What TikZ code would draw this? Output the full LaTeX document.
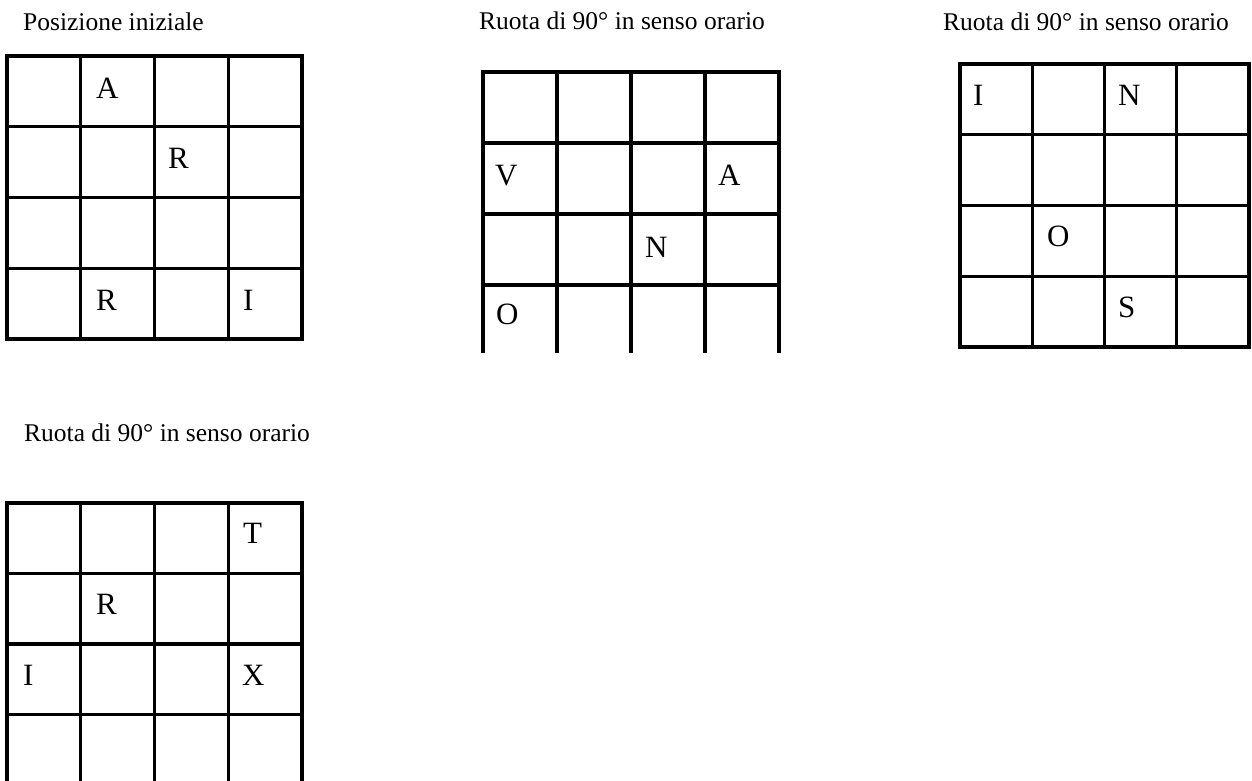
\documentclass[tikz,border=0pt]{standalone}
\usepackage{fontspec}
\setmainfont{Liberation Serif}
\usepackage{tikz}
\usepackage{xcolor}
\definecolor{ink}{HTML}{000000}
\definecolor{paper}{HTML}{FFFFFF}
\tikzset{
  gridline/.style={draw=ink,line width=3.3pt,line join=miter},
  titletext/.style={anchor=base west,inner sep=0pt,text=ink,
                    font=\fontsize{25.5}{30}\selectfont},
  cellletter/.style={anchor=base west,inner sep=0pt,text=ink,
                     font=\fontsize{31}{36}\selectfont}
}
\begin{document}
\begin{tikzpicture}[x=1pt,y=-1pt]
  \useasboundingbox[fill=paper] (0,0) rectangle (1252,780);
  % titles
  \node[titletext] (tit1) at (23,30)  {Posizione iniziale};
  \node[titletext] (tit2) at (479,29) {Ruota di 90° in senso orario};
  \node[titletext] (tit3) at (943,30) {Ruota di 90° in senso orario};
  \node[titletext] (tit4) at (24,441) {Ruota di 90° in senso orario};
  % grid 1, closed
  \draw[gridline] (7,56) rectangle (302,339);
  \foreach \i in {1,2,3} {
    \draw[gridline] (7+\i*73.75,56) -- (7+\i*73.75,339);
    \draw[gridline] (7,56+\i*70.75) -- (302,56+\i*70.75);
  }
  % grid 2, open at the bottom
  \draw[gridline] (483,353) -- (483,72) -- (779,72) -- (779,353);
  \foreach \i in {1,2,3} {
    \draw[gridline] (483+\i*74,72) -- (483+\i*74,353);
    \draw[gridline] (483,72+\i*71) -- (779,72+\i*71);
  }
  % grid 3, closed
  \draw[gridline] (960,64) rectangle (1249,347);
  \foreach \i in {1,2,3} {
    \draw[gridline] (960+\i*72.25,64) -- (960+\i*72.25,347);
    \draw[gridline] (960,64+\i*70.75) -- (1249,64+\i*70.75);
  }
  % grid 4, cut by the lower edge
  \draw[gridline] (7,782) -- (7,503) -- (302,503) -- (302,782);
  \foreach \i in {1,2,3} {
    \draw[gridline] (7+\i*73.75,503) -- (7+\i*73.75,782);
    \draw[gridline] (7,503+\i*70.5) -- (302,503+\i*70.5);
  }
  % letters in the cells
  \foreach \x/\y/\l/\n in {96/98/A/ga, 168/168/R/gb, 96/310/R/gc, 243/310/I/gd,
      495/185/V/ge, 718/185/A/gf, 645/257/N/gg, 496/324/O/gh,
      973/105/I/gi, 1118/105/N/gj, 1047/246/O/gk, 1118/317/S/gl,
      243/543/T/gm, 96/614/R/gn, 23/685/I/go, 242/685/X/gp} {
    \node[cellletter] (\n) at (\x,\y) {\l};
  }
\end{tikzpicture}
\end{document}
